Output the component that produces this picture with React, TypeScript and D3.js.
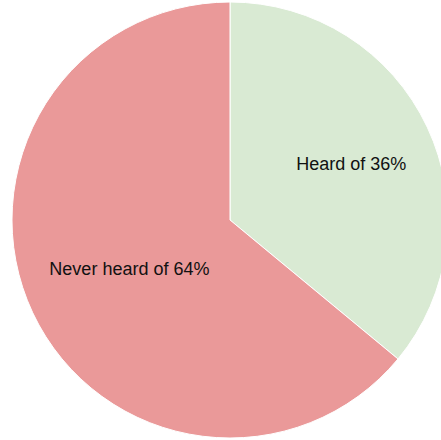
import React from "react";
import * as d3 from "d3";

const categories = ["Heard of", "Never heard of"];
const values = [36, 64];
const colors = ["#d9ead3", "#ea9999"];
const labelRadiusFactor = [0.615, 0.51];

export default function App() {
  const width = 441;
  const height = 440;
  const cx = 230;
  const cy = 220;
  const r = 218;

  const pie = d3.pie<number>().sort(null).value((d) => d);
  const arcs = pie(values);
  const arcGen = d3.arc<d3.PieArcDatum<number>>().innerRadius(0).outerRadius(r);

  return (
    <svg
      width={width}
      height={height}
      style={{ position: "fixed", left: 0, top: 0, background: "#ffffff" }}
    >
      <g transform={`translate(${cx},${cy})`}>
        {arcs.map((a, i) => (
          <path key={i} d={arcGen(a) || ""} fill={colors[i]} stroke="#ffffff" strokeWidth={1} />
        ))}
        {arcs.map((a, i) => {
          const lr = r * labelRadiusFactor[i];
          const la = d3.arc<d3.PieArcDatum<number>>().innerRadius(lr).outerRadius(lr);
          const [x, y] = la.centroid(a);
          return (
            <text
              key={"t" + i}
              x={x}
              y={y + 1.5}
              textAnchor="middle"
              dominantBaseline="central"
              fontFamily="'Liberation Sans', Arial, sans-serif"
              fontSize={18}
              fill="#111111"
            >
              {`${categories[i]} ${values[i]}%`}
            </text>
          );
        })}
      </g>
    </svg>
  );
}
